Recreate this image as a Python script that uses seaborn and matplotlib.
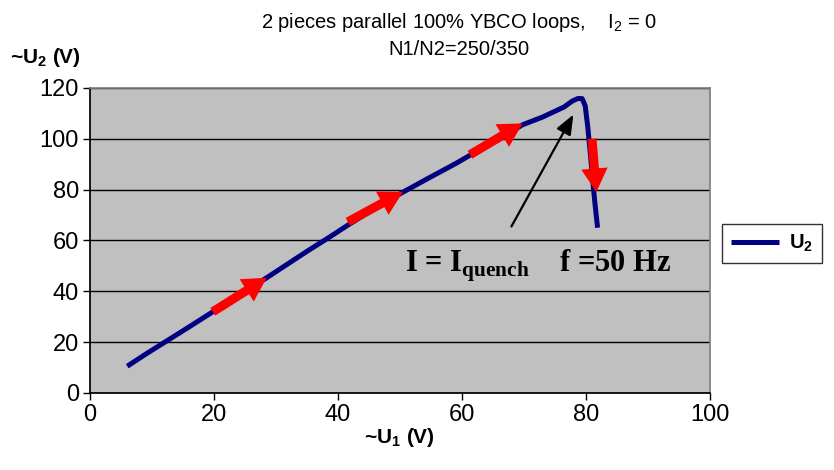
import numpy as np
import pandas as pd
import matplotlib
matplotlib.use("Agg")
import matplotlib.pyplot as plt
import seaborn as sns

sns.set_theme(style="white")
plt.rcParams['font.family'] = ['Liberation Sans', 'DejaVu Sans']
plt.rcParams['text.color'] = 'black'
plt.rcParams['xtick.color'] = 'black'
plt.rcParams['ytick.color'] = 'black'
plt.rcParams['axes.labelcolor'] = 'black'

u1 = [6, 9, 12.6, 16, 19.8, 24, 28.5, 32, 35, 38.7, 41.6, 46, 50.5, 55, 59.2, 62, 66, 69.8, 73,
      76.5, 77.8, 78.7, 79.4, 79.9, 80.3, 80.7, 81.1, 81.5, 81.9]
u2 = [10.5, 15.3, 20.8, 26, 31.9, 38.3, 45.3, 50.9, 55.7, 61.4, 66, 72.7, 79, 85, 90.5, 94.5, 100, 105.5, 108.5,
      112.5, 114.8, 115.8, 115.8, 113, 105, 95, 84, 74, 65]

# red direction arrows (start x, start y, end x, end y)
arrow_x0 = [19.8, 41.6, 61.3, 81.0]
arrow_y0 = [31.9, 67.3, 93.7, 100]
arrow_x1 = [28.5, 50.5, 69.8, 81.7]
arrow_y1 = [45.3, 79.1, 106, 79]

xticks = [0, 20, 40, 60, 80, 100]
yticks = [0, 20, 40, 60, 80, 100, 120]

df = pd.DataFrame({"U1": u1, "U2": u2})

fig = plt.figure(figsize=(8.34, 4.70), dpi=100)
ax = fig.add_axes([0.108, 0.164, 0.743, 0.649])
ax.set_facecolor("#C0C0C0")

sns.lineplot(data=df, x="U1", y="U2", sort=False, color="#000080", lw=3.6,
             ax=ax, label="U$_\\mathregular{2}$", solid_joinstyle="round", solid_capstyle="butt")

for x0, y0, x1, y1 in zip(arrow_x0, arrow_y0, arrow_x1, arrow_y1):
    ax.annotate("", xy=(x1, y1), xytext=(x0, y0),
                arrowprops=dict(arrowstyle="simple,head_length=1.7,head_width=1.9,tail_width=0.65",
                                color="#FF0000", lw=0, shrinkA=0, shrinkB=0, mutation_scale=10), zorder=5)

ax.annotate("", xy=(78.0, 109.5), xytext=(68, 65.5),
            arrowprops=dict(arrowstyle="-|>,head_length=1.0,head_width=0.4", color="black", lw=1.6,
                            shrinkA=0, shrinkB=0))
ax.text(50.8, 50.0, "I = I$_\\mathregular{quench}$    f =50 Hz", fontsize=22, fontweight="bold",
        family=["Liberation Serif", "DejaVu Serif"], va="center", ha="left")

ax.set_xlim(0, 100)
ax.set_ylim(0, 120)
ax.set_xticks(xticks)
ax.set_yticks(yticks)
ax.yaxis.grid(True, color="black", lw=1)
ax.set_axisbelow(True)
ax.tick_params(axis="both", labelsize=17, length=5, direction="out", width=1,
               bottom=True, left=True, color="black", pad=3)
for s in ["top", "right"]:
    ax.spines[s].set_color("#808080")
for s in ["left", "bottom"]:
    ax.spines[s].set_color("black")
ax.set_xlabel("~U$_\\mathregular{1}$ (V)", fontsize=15, fontweight="bold", labelpad=0)
ax.set_ylabel("")
fig.text(0.012, 0.877, "~U$_\\mathregular{2}$ (V)", fontsize=15, fontweight="bold", ha="left", va="center")
fig.text(0.55, 0.953, "2 pieces parallel 100% YBCO loops,    I$_\\mathregular{2}$ = 0", fontsize=14.5,
         ha="center", va="center")
fig.text(0.55, 0.894, "N1/N2=250/350", fontsize=14.5, ha="center", va="center")

leg = ax.legend(loc="center left", bbox_to_anchor=(1.019, 0.49), frameon=True, fancybox=False,
                edgecolor="black", fontsize=14.5, handlelength=2.4, handletextpad=0.5,
                borderpad=0.45, borderaxespad=0)
for t in leg.get_texts():
    t.set_fontweight("bold")
leg.get_frame().set_linewidth(1)

fig.savefig("out.png", dpi=100)
